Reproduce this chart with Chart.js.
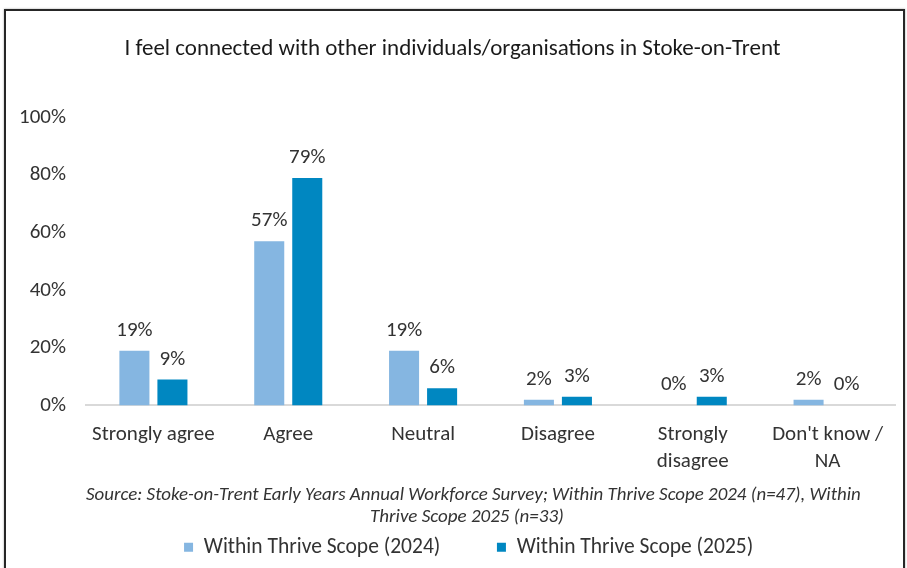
<!DOCTYPE html>
<html>
<head>
<meta charset="utf-8">
<script src="https://cdn.jsdelivr.net/npm/chart.js@4.4.1/dist/chart.umd.min.js"></script>
<style>
  html, body { margin: 0; padding: 0; background: #fff; }
  #wrap { position: relative; width: 907px; height: 568px; overflow: hidden; }
  #frame {
    position: absolute; left: 4px; top: 9px; width: 897px; height: 600px;
    border: 2px solid #262626; box-shadow: 0 0 2px rgba(0,0,0,0.35);
    pointer-events: none;
  }
  canvas { position: absolute; left: 0; top: 0; }
</style>
</head>
<body>
<div id="wrap">
  <canvas id="chart" width="907" height="568"></canvas>
  <div id="frame"></div>
</div>
<script>
// Survey responses, share of respondents
const categories = ['Strongly agree', 'Agree', 'Neutral', 'Disagree', ['Strongly', 'disagree'], ["Don't know /", 'NA']];
const values2024 = [19, 57, 19, 2, 0, 2];
const values2025 = [9, 79, 6, 3, 3, 0];
const seriesNames = ['Within Thrive Scope (2024)', 'Within Thrive Scope (2025)'];
const yTicks = [0, 20, 40, 60, 80, 100];
const sourceLines = ['Source: Stoke-on-Trent Early Years Annual Workforce Survey; Within Thrive Scope 2024 (n=47), Within',
                     'Thrive Scope 2025 (n=33)'];

const FONT = 'Carlito, Calibri, Lato, sans-serif';
const TEXT = '#333333';
const pad = n => '\u00a0'.repeat(n);

// Writes the percentage above each bar
const valueLabels = {
    id: 'valueLabels',
    afterDatasetsDraw(chart) {
        const ctx = chart.ctx;
        ctx.save();
        ctx.font = '21px ' + FONT;
        ctx.fillStyle = TEXT;
        ctx.textAlign = 'center';
        ctx.textBaseline = 'alphabetic';
        chart.data.datasets.forEach((ds, i) => {
            chart.getDatasetMeta(i).data.forEach((bar, j) => {
                ctx.fillText(ds.data[j] + '%', bar.x, bar.y - 15);
            });
        });
        ctx.restore();
    }
};

new Chart(document.getElementById('chart'), {
    type: 'bar',
    data: {
        labels: categories,
        datasets: [{
            label: seriesNames[0],
            data: values2024,
            backgroundColor: '#85B6E1',
            categoryPercentage: 0.564,
            barPercentage: 0.79
        }, {
            label: seriesNames[1],
            data: values2025,
            backgroundColor: '#0087C1',
            categoryPercentage: 0.564,
            barPercentage: 0.79
        }]
    },
    options: {
        responsive: false,
        animation: false,
        layout: { padding: { top: 10, left: 10, right: 12, bottom: 0 } },
        scales: {
            x: {
                afterFit: scale => { scale.height = 70; },
                grid: { display: false, drawTicks: false },
                border: { color: '#D9D9D9', width: 2 },
                ticks: {
                    color: TEXT,
                    font: { family: FONT, size: 21, lineHeight: 1.29 },
                    padding: 16,
                    maxRotation: 0,
                    autoSkip: false
                }
            },
            y: {
                min: 0,
                max: 100,
                afterBuildTicks: scale => { scale.ticks = yTicks.map(v => ({ value: v })); },
                afterFit: scale => { scale.width = 76; },
                grid: { display: false, drawTicks: false },
                border: { display: false },
                ticks: {
                    color: TEXT,
                    font: { family: FONT, size: 21 },
                    padding: 20,
                    callback: v => v + '%'
                }
            }
        },
        plugins: {
            title: {
                display: true,
                text: 'I feel connected with other individuals/organisations in Stoke-on-Trent',
                color: '#1a1a1a',
                font: { family: FONT, size: 23, weight: 'normal' },
                padding: { top: 25, bottom: 55 }
            },
            subtitle: {
                display: true,
                position: 'bottom',
                fullSize: false,
                weight: 500,
                // trailing spaces nudge each centred line a little to the left
                text: [sourceLines[0] + pad(8), sourceLines[1] + pad(11)],
                color: TEXT,
                font: { family: FONT, size: 19, style: 'italic', lineHeight: 1.16 },
                padding: { top: 9, bottom: 0 }
            },
            legend: {
                position: 'bottom',
                fullSize: false,
                labels: {
                    color: TEXT,
                    font: { family: FONT, size: 21.5 },
                    boxWidth: 9,
                    boxHeight: 9,
                    padding: 8,
                    generateLabels: chart => Chart.defaults.plugins.legend.labels.generateLabels(chart)
                        .map((item, i) => {
                            item.text = item.text + pad(i === 0 ? 10 : 9);
                            return item;
                        })
                }
            },
            tooltip: { enabled: false }
        }
    },
    plugins: [valueLabels]
});
</script>
</body>
</html>
